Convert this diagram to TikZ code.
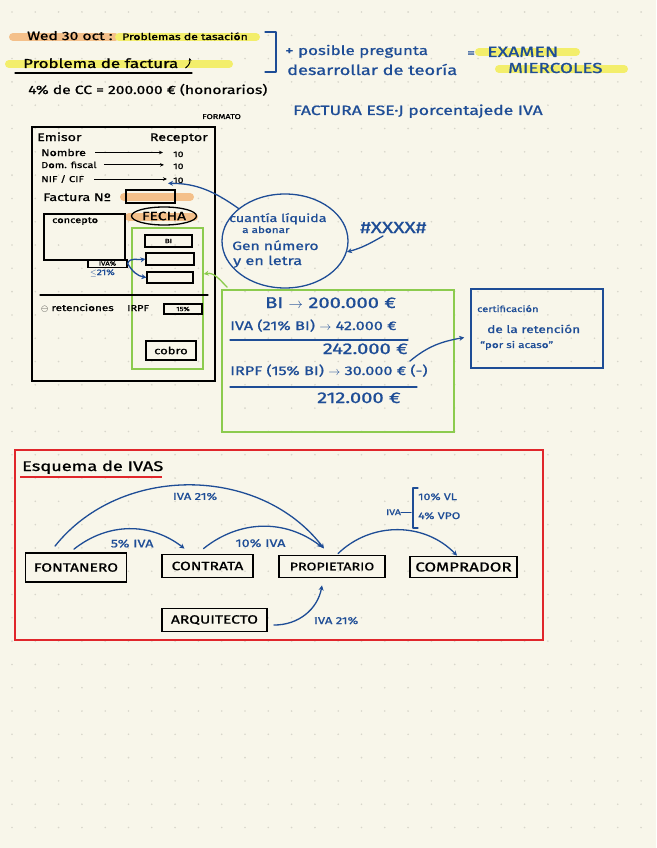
\documentclass[tikz,border=0pt]{standalone}
\usepackage{fontspec}
\setmainfont{Fira Sans}[FakeStretch=1.3,FakeBold=1]
\usetikzlibrary{arrows.meta,positioning,shapes.geometric}

\definecolor{paper}{HTML}{F8F6EA}
\definecolor{dotc}{HTML}{D8D6CB}
\definecolor{pen}{HTML}{1E4D96}
\definecolor{lime}{HTML}{8CCB4E}
\definecolor{redc}{HTML}{E0262B}
\definecolor{hlyellow}{HTML}{F3EE6B}
\definecolor{hlorange}{HTML}{F4C08A}

\newcommand{\txtsz}[1]{\fontsize{#1}{#1}\selectfont}

\tikzset{
  ink/.style={line width=1.3pt,line cap=round,line join=round},
  bluink/.style={ink,draw=pen},
  blarrow/.style={bluink,-{Stealth[length=5pt,width=5pt]}},
  darr/.style={line width=1pt,-{Stealth[length=4pt,width=3.5pt]}},
  txt/.style={inner sep=0pt,anchor=base west},
  bltxt/.style={txt,text=pen},
  lbl/.style={inner sep=2pt,text=pen},
  field/.style={draw,line width=1.2pt,inner sep=0pt},
  actor/.style={draw,line width=1.8pt,inner sep=0pt,font=\txtsz{12}},
  marker/.style={line width=8pt,line cap=round},
}

\begin{document}
\begin{tikzpicture}[x=1pt,y=-1pt]
  \fill[paper] (0,0) rectangle (656,848);
  \useasboundingbox (0,0) rectangle (656,848);
  \foreach \i in {0,...,28}
    \foreach \j in {0,...,36}
      \fill[dotc] (12+23.3*\i, 12+23.3*\j) circle (0.9pt);

  % markers
  \draw[marker,hlorange] (13,37) -- (115,37);
  \draw[marker,hlyellow] (119,37) -- (256,37);
  \draw[marker,hlyellow] (9,64) -- (229,64);
  \draw[marker,hlyellow] (479,52) -- (576,52);
  \draw[marker,hlyellow] (499,69) -- (624,69);
  \draw[marker,hlorange] (124,197) -- (190,197);
  \draw[marker,hlorange] (129,217) -- (194,217);

  % header
  \node[txt,font=\txtsz{12}] (wed) at (27,40) {Wed 30 oct :};
  \node[txt,font=\txtsz{9.4}] (tasacion) at (122,40) {Problemas de tasación};
  \node[txt,font=\txtsz{13}] (factura) at (23,68) {Problema de factura};
  \draw[ink] (15,73) -- (192,73);
  \draw[line width=1pt,-{Stealth[length=3pt,width=3pt]}] ([xshift=7pt]factura.base east) to[bend right=35] ++(4,-10);
  \node[txt,font=\txtsz{12}] (honorarios) at (28,94) {4\% de CC = 200.000 € (honorarios)};
  \draw[bluink] (265,32) -- (276,32) -- (276,72) -- (265,72);
  \node[bltxt,font=\txtsz{13}] (pregunta) at (285,55) {+ posible pregunta};
  \node[bltxt,font=\txtsz{14}] (teoria) at (287,75) {desarrollar de teoría};
  \node[bltxt,font=\txtsz{12}] (igual) at (467,57) {=};
  \node[bltxt,font=\txtsz{15}] (examen) at (487,57) {EXAMEN};
  \node[bltxt,font=\txtsz{14.5}] (miercoles) at (508,73) {MIERCOLES};
  \node[txt,font=\txtsz{7}] (formato) at (202,119) {FORMATO};
  \node[bltxt,font=\txtsz{13.5}] (ese) at (293,115) {FACTURA ESE·J porcentajede IVA};

  % factura
  \draw[line width=1.6pt] (32,127) rectangle (215,381);
  \node[txt,font=\txtsz{11}] (emisor) at (37,141) {Emisor};
  \node[txt,anchor=base east,font=\txtsz{11}] (receptor) at (208,141) {Receptor};
  \node[txt,font=\txtsz{9.5}] (nombre) at (41,156) {Nombre};
  \node[txt,font=\txtsz{8.5}] (domicilio) at (41,168) {Dom. fiscal};
  \node[txt,font=\txtsz{8.5}] (nif) at (41,182) {NIF / CIF};
  \node[txt,font=\txtsz{8}] (r1) at (173,157) {10};
  \node[txt,font=\txtsz{8}] (r2) at (173,169) {10};
  \node[txt,font=\txtsz{8}] (r3) at (173,183) {10};
  \draw[darr,shorten <=9pt,shorten >=10pt] (nombre.east) -- (nombre.east -| r1.west);
  \draw[darr,shorten <=7pt,shorten >=9pt] (domicilio.east) -- (domicilio.east -| r2.west);
  \draw[darr,shorten <=10pt,shorten >=6pt] (nif.east) -- (nif.east -| r3.west);
  \node[txt,font=\txtsz{11}] (facturaN) at (43,201) {Factura Nº};
  \node[field,minimum width=49pt,minimum height=13pt] (numero) at (150.5,196.5) {};
  \node[inner sep=0pt,font=\txtsz{12}] (fecha) at (164,216) {FECHA};
  \draw[line width=1.3pt] (fecha) ellipse [x radius=32.5, y radius=9];
  \node[field,minimum width=81pt,minimum height=46pt] (concepto) at (84.5,237) {};
  \node[txt,font=\txtsz{8.5}] (conceptotxt) at (52,223) {concepto};
  \node[draw=lime,line width=1.5pt,minimum width=71pt,minimum height=141pt] (totales) at (167.5,298.5) {};
  \node[field,minimum width=47pt,minimum height=12pt,font=\txtsz{6}] (bi) at (168.5,241) {BI};
  \node[field,minimum width=48pt,minimum height=12pt] (iva) at (170,259) {};
  \node[field,minimum width=46pt,minimum height=11pt] (total) at (170,277.5) {};
  \node[field,minimum width=39pt,minimum height=8pt,font=\txtsz{6}] (ivapct) at (107.5,263.5) {IVA\%};
  \node[bltxt,font=\txtsz{8}] (tipo) at (90,275) {$\leq$21\%};
  \draw[blarrow] (ivapct.east) to[out=70,in=190] (iva.west);
  \draw[blarrow] (ivapct.east) to[out=-60,in=170] (total.west);
  \draw[ink] (40,295) -- (208,295);
  \node[txt,font=\txtsz{9}] (retenciones) at (41,311) {$\ominus$ retenciones};
  \node[txt,font=\txtsz{8.5}] (irpf) at (127,311) {IRPF};
  \node[field,minimum width=38pt,minimum height=10pt,font=\txtsz{6}] (irpfpct) at (183,309) {15\%};
  \node[field,line width=1.5pt,minimum width=50pt,minimum height=19pt,font=\txtsz{10}] (cobro) at (171,350.5) {cobro};

  % cuantia liquida
  \node[ellipse,draw=pen,line width=1.3pt,minimum width=126pt,minimum height=94pt] (cuantia) at (285,241) {};
  \node[bltxt,font=\txtsz{11}] (liquida) at (229,222) {cuantía líquida};
  \node[bltxt,font=\txtsz{9}] (abonar) at (242,233) {a abonar};
  \node[bltxt,font=\txtsz{12}] (numeroTxt) at (232,250) {Gen número};
  \node[bltxt,font=\txtsz{12.5}] (letra) at (233,265) {y en letra};
  \draw[blarrow] (cuantia.145) to[out=145,in=0] ([xshift=-5pt,yshift=-3pt]r3.west);
  \node[bltxt,font=\txtsz{16}] (almohadilla) at (360,233) {\#XXXX\#};
  \draw[blarrow] ([xshift=23pt,yshift=-3pt]almohadilla.base west) to[out=-150,in=15] (cuantia.-10);

  % calculo
  \node[draw=lime,line width=1.5pt,minimum width=232pt,minimum height=142pt] (calculo) at (338,361) {};
  \draw[ink,draw=lime,-{Stealth[length=5pt,width=5pt]}] ([xshift=6pt,yshift=2pt]calculo.north west) to[out=135,in=10] ([yshift=24.5pt]totales.east);
  \node[bltxt,font=\txtsz{15.5}] (c1) at (265,308) {BI $\rightarrow$ 200.000 €};
  \node[bltxt,font=\txtsz{12.5}] (c2) at (230,330) {IVA (21\% BI) $\rightarrow$ 42.000 €};
  \draw[bluink] (230,340) -- (408,340);
  \node[bltxt,anchor=base east,font=\txtsz{15.5}] (c3) at (408,354) {242.000 €};
  \node[bltxt,font=\txtsz{12.5}] (c4) at (230,375) {IRPF (15\% BI) $\rightarrow$ 30.000 € (-)};
  \draw[bluink] (230,387) -- (417,387);
  \node[bltxt,font=\txtsz{15.5}] (c5) at (317,403) {212.000 €};
  \node[draw=pen,line width=1.5pt,minimum width=132pt,minimum height=79pt] (certificado) at (537,328.5) {};
  \node[bltxt,font=\txtsz{8.5}] (cert1) at (477,312) {certificación};
  \node[bltxt,font=\txtsz{10.5}] (cert2) at (487,333) {de la retención};
  \node[bltxt,font=\txtsz{9}] (cert3) at (480,348) {“por si acaso”};
  \draw[blarrow] ([xshift=-18pt,yshift=3pt]c4.north east) to[out=40,in=190] ([xshift=-6pt,yshift=-9pt]certificado.west);

  % esquema de IVAS
  \draw[redc,line width=1.6pt] (15,450) rectangle (543,640);
  \node[txt,font=\txtsz{14}] (esquema) at (22,471) {Esquema de IVAS};
  \draw[redc,line width=1.6pt] (20,477) -- (162,477);
  \node[actor,minimum width=101pt,minimum height=29pt] (fontanero) at (76,567.5) {FONTANERO};
  \node[actor,minimum width=91pt,minimum height=23pt] (contrata) at (207.5,566) {CONTRATA};
  \node[actor,minimum width=106pt,minimum height=22pt,font=\txtsz{11}] (propietario) at (332,566.5) {PROPIETARIO};
  \node[actor,minimum width=107pt,minimum height=21pt,font=\txtsz{13}] (comprador) at (463.5,567) {COMPRADOR};
  \node[actor,minimum width=105pt,minimum height=23pt] (arquitecto) at (214.5,620) {ARQUITECTO};
  \path ([xshift=-21pt,yshift=6pt]fontanero.north) edge [blarrow,bend left=52]
    node [lbl,auto,swap,font=\txtsz{10},xshift=5pt,yshift=-5pt] {IVA 21\%} ([xshift=-8pt,yshift=6pt]propietario.north);
  \path ([xshift=-2pt,yshift=3pt]fontanero.north) edge [blarrow,bend left=38]
    node [lbl,auto,swap,font=\txtsz{11},xshift=3pt,yshift=-8pt] {5\% IVA} ([xshift=-23pt,yshift=5pt]contrata.north);
  \path ([xshift=-4pt,yshift=5pt]contrata.north) edge [blarrow,bend left=38]
    node [lbl,auto,swap,font=\txtsz{11},xshift=-2pt,yshift=-10pt] {10\% IVA} ([xshift=-10pt,yshift=7.5pt]propietario.north);
  \path ([xshift=6pt,yshift=1pt]propietario.north) edge [blarrow,bend left=45] ([xshift=-6.5pt]comprador.north);
  \path ([xshift=6pt,yshift=-5pt]arquitecto.east) edge [blarrow,bend right=40]
    node [lbl,auto,swap,font=\txtsz{10},xshift=6pt] {IVA 21\%} ([xshift=-10pt,yshift=-7pt]propietario.south);
  \node[bltxt,font=\txtsz{8}] (ivavivienda) at (386,515) {IVA};
  \draw[bluink] (ivavivienda.east) -- ++(10,0);
  \draw[bluink] (418,488) -- (413,488) -- (413,528) -- (418,528);
  \node[bltxt,font=\txtsz{9.5}] (vl) at (418,500) {10\% VL};
  \node[bltxt,font=\txtsz{9.5}] (vpo) at (418,519) {4\% VPO};
\end{tikzpicture}
\end{document}
